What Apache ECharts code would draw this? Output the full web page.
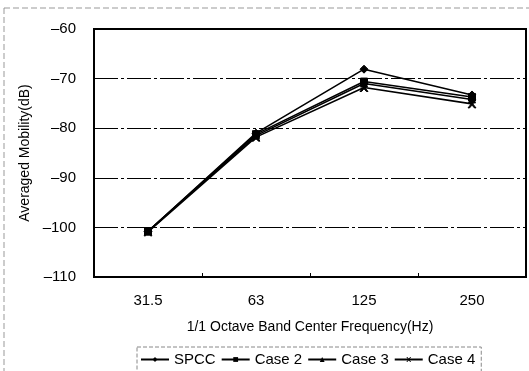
<!DOCTYPE html>
<html>
<head>
<meta charset="utf-8">
<script src="https://cdn.jsdelivr.net/npm/echarts@6/dist/echarts.min.js"></script>
<style>
  html, body { margin: 0; padding: 0; background: #fff; }
  #main { width: 529px; height: 371px; }
</style>
</head>
<body>
<div id="main"></div>
<script>
// 주파수 대역 (x축)
let freqs = ['31.5', '63', '125', '250']
// 각 케이스 평균 모빌리티 (dB)
let spcc = [-100.8, -81.0, -68.1, -73.3]
let case2 = [-100.8, -81.2, -70.6, -73.7]
let case3 = [-100.8, -81.5, -71.0, -74.2]
let case4 = [-100.9, -81.8, -71.8, -75.1]
let yTicks = [-110, -100, -90, -80, -70, -60]

let crossPath = 'path://M0,0 L2,0 L5,3.5 L8,0 L10,0 L6,5 L10,10 L8,10 L5,6.5 L2,10 L0,10 L4,5 Z'

let myChart = echarts.init(document.getElementById('main'))

function line(name, data, symbol, size) {
    return {
        name: name,
        type: 'line',
        data: data,
        symbol: symbol,
        symbolSize: size,
        showSymbol: true,
        lineStyle: { color: '#000', width: 1.6 },
        itemStyle: { color: '#000', borderColor: '#000' },
        emphasis: { disabled: true }
    }
}

myChart.setOption({
    animation: false,
    backgroundColor: '#fff',
    textStyle: { fontFamily: 'Liberation Sans, Arial, sans-serif', color: '#000' },
    graphic: [{
        type: 'rect',
        shape: { x: 4, y: 8, width: 530, height: 400 },
        style: { fill: 'none', stroke: '#999', lineWidth: 1, lineDash: [6, 3] },
        silent: true
    }],
    grid: { left: 94, top: 29, right: 3, bottom: 94, show: true, borderColor: '#000', borderWidth: 2 },
    legend: {
        bottom: -3,
        left: 137,
        itemGap: 5,
        itemWidth: 28,
        itemHeight: 6,
        padding: [5, 6, 7, 3],
        borderColor: '#888',
        borderWidth: 1,
        borderType: 'dashed',
        textStyle: { fontSize: 15, color: '#000' },
        data: ['SPCC', 'Case 2', 'Case 3', 'Case 4']
    },
    xAxis: {
        type: 'category',
        data: freqs,
        boundaryGap: true,
        name: '1/1 Octave Band Center Frequency(Hz)',
        nameLocation: 'middle',
        nameGap: 43,
        nameTextStyle: { fontSize: 14, color: '#000' },
        axisLine: { lineStyle: { color: '#000', width: 2 } },
        axisTick: { show: true, inside: true, length: 4, lineStyle: { color: '#000' } },
        axisLabel: { fontSize: 15, color: '#000', margin: 16 },
        splitLine: { show: false }
    },
    yAxis: {
        type: 'value',
        min: yTicks[0],
        max: yTicks[yTicks.length - 1],
        interval: 10,
        name: 'Averaged Mobility(dB)',
        nameLocation: 'middle',
        nameGap: 60,
        nameTextStyle: { fontSize: 14, color: '#000' },
        axisLine: { show: true, lineStyle: { color: '#000', width: 2 } },
        axisTick: { show: false },
        axisLabel: { fontSize: 15, color: '#000', margin: 18, formatter: v => String(v).replace('-', '\u2013') },
        splitLine: { show: true, lineStyle: { color: '#000', width: 1, type: [24, 3, 3, 3] } }
    },
    series: [
        line('SPCC', spcc, 'diamond', 8),
        line('Case 2', case2, 'rect', 7),
        line('Case 3', case3, 'triangle', 7),
        line('Case 4', case4, crossPath, 8)
    ]
})
</script>
</body>
</html>
